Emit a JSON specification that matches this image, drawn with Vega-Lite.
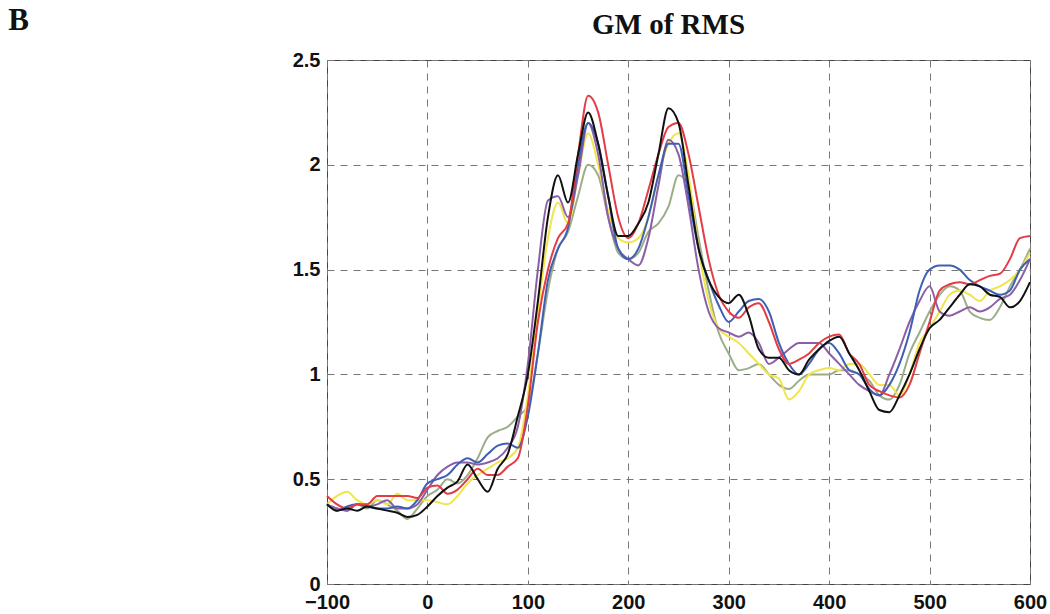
{
  "$schema": "https://vega.github.io/schema/vega-lite/v6.json",
  "width": 703,
  "height": 524,
  "autosize": {"type": "none"},
  "padding": {"left": 327, "top": 60, "right": 20, "bottom": 30},
  "background": "white",
  "title": {"text": "GM of RMS", "font": "Liberation Serif", "fontSize": 29, "fontWeight": "bold", "color": "#111", "anchor": "middle", "frame": "group", "offset": -36, "dx": -10},
  "config": {
    "view": {"stroke": "#444", "strokeWidth": 1},
    "axis": {"labelFont": "Liberation Sans", "labelFontWeight": "bold", "labelFontSize": 20, "labelColor": "#111", "grid": true, "gridColor": "#777", "gridDash": [7, 6], "gridWidth": 1, "domain": false, "ticks": false},
    "axisY": {"titleFontSize": 31}
  },
  "data": {"values": [
    {"x": -100, "k": 0.38, "r": 0.42, "b": 0.38, "yw": 0.38, "g": 0.38, "p": 0.38},
    {"x": -90, "k": 0.35, "r": 0.38, "b": 0.35, "yw": 0.42, "g": 0.36, "p": 0.36},
    {"x": -80, "k": 0.36, "r": 0.36, "b": 0.37, "yw": 0.44, "g": 0.35, "p": 0.35},
    {"x": -70, "k": 0.35, "r": 0.38, "b": 0.38, "yw": 0.40, "g": 0.38, "p": 0.38},
    {"x": -60, "k": 0.37, "r": 0.38, "b": 0.37, "yw": 0.38, "g": 0.36, "p": 0.37},
    {"x": -50, "k": 0.36, "r": 0.42, "b": 0.36, "yw": 0.40, "g": 0.40, "p": 0.38},
    {"x": -40, "k": 0.35, "r": 0.42, "b": 0.36, "yw": 0.38, "g": 0.38, "p": 0.40},
    {"x": -30, "k": 0.34, "r": 0.42, "b": 0.37, "yw": 0.43, "g": 0.35, "p": 0.36},
    {"x": -20, "k": 0.32, "r": 0.42, "b": 0.36, "yw": 0.40, "g": 0.31, "p": 0.36},
    {"x": -10, "k": 0.33, "r": 0.41, "b": 0.40, "yw": 0.40, "g": 0.36, "p": 0.38},
    {"x": 0, "k": 0.37, "r": 0.46, "b": 0.48, "yw": 0.40, "g": 0.42, "p": 0.45},
    {"x": 10, "k": 0.42, "r": 0.47, "b": 0.50, "yw": 0.39, "g": 0.45, "p": 0.52},
    {"x": 20, "k": 0.46, "r": 0.43, "b": 0.52, "yw": 0.38, "g": 0.50, "p": 0.56},
    {"x": 30, "k": 0.49, "r": 0.45, "b": 0.57, "yw": 0.42, "g": 0.48, "p": 0.58},
    {"x": 40, "k": 0.57, "r": 0.50, "b": 0.60, "yw": 0.48, "g": 0.52, "p": 0.58},
    {"x": 50, "k": 0.50, "r": 0.55, "b": 0.58, "yw": 0.52, "g": 0.60, "p": 0.57},
    {"x": 60, "k": 0.44, "r": 0.52, "b": 0.62, "yw": 0.55, "g": 0.70, "p": 0.58},
    {"x": 70, "k": 0.55, "r": 0.52, "b": 0.66, "yw": 0.58, "g": 0.73, "p": 0.60},
    {"x": 80, "k": 0.62, "r": 0.56, "b": 0.67, "yw": 0.60, "g": 0.75, "p": 0.65},
    {"x": 90, "k": 0.80, "r": 0.60, "b": 0.65, "yw": 0.65, "g": 0.80, "p": 0.75},
    {"x": 100, "k": 1.00, "r": 0.85, "b": 0.80, "yw": 0.90, "g": 0.85, "p": 1.05},
    {"x": 110, "k": 1.35, "r": 1.25, "b": 1.10, "yw": 1.30, "g": 1.10, "p": 1.50},
    {"x": 120, "k": 1.75, "r": 1.50, "b": 1.45, "yw": 1.65, "g": 1.40, "p": 1.83},
    {"x": 130, "k": 1.95, "r": 1.65, "b": 1.60, "yw": 1.82, "g": 1.60, "p": 1.85},
    {"x": 140, "k": 1.82, "r": 1.72, "b": 1.70, "yw": 1.72, "g": 1.68, "p": 1.75},
    {"x": 150, "k": 2.05, "r": 2.05, "b": 2.00, "yw": 1.95, "g": 1.85, "p": 1.95},
    {"x": 160, "k": 2.25, "r": 2.33, "b": 2.20, "yw": 2.15, "g": 2.00, "p": 2.20},
    {"x": 170, "k": 2.10, "r": 2.25, "b": 2.10, "yw": 2.00, "g": 1.95, "p": 2.05},
    {"x": 180, "k": 1.85, "r": 2.00, "b": 1.85, "yw": 1.78, "g": 1.75, "p": 1.75},
    {"x": 190, "k": 1.66, "r": 1.75, "b": 1.60, "yw": 1.65, "g": 1.58, "p": 1.60},
    {"x": 200, "k": 1.66, "r": 1.65, "b": 1.55, "yw": 1.63, "g": 1.55, "p": 1.55},
    {"x": 210, "k": 1.72, "r": 1.72, "b": 1.60, "yw": 1.65, "g": 1.58, "p": 1.52},
    {"x": 220, "k": 1.82, "r": 1.88, "b": 1.75, "yw": 1.75, "g": 1.68, "p": 1.65},
    {"x": 230, "k": 2.05, "r": 2.05, "b": 1.95, "yw": 1.95, "g": 1.72, "p": 1.90},
    {"x": 240, "k": 2.27, "r": 2.18, "b": 2.10, "yw": 2.10, "g": 1.80, "p": 2.12},
    {"x": 250, "k": 2.20, "r": 2.20, "b": 2.10, "yw": 2.15, "g": 1.95, "p": 2.05},
    {"x": 260, "k": 1.90, "r": 2.05, "b": 1.85, "yw": 1.95, "g": 1.90, "p": 1.80},
    {"x": 270, "k": 1.60, "r": 1.80, "b": 1.60, "yw": 1.60, "g": 1.65, "p": 1.50},
    {"x": 280, "k": 1.45, "r": 1.55, "b": 1.45, "yw": 1.35, "g": 1.40, "p": 1.30},
    {"x": 290, "k": 1.37, "r": 1.38, "b": 1.33, "yw": 1.22, "g": 1.20, "p": 1.22},
    {"x": 300, "k": 1.34, "r": 1.30, "b": 1.25, "yw": 1.18, "g": 1.10, "p": 1.20},
    {"x": 310, "k": 1.38, "r": 1.27, "b": 1.30, "yw": 1.15, "g": 1.02, "p": 1.18},
    {"x": 320, "k": 1.28, "r": 1.32, "b": 1.35, "yw": 1.10, "g": 1.03, "p": 1.20},
    {"x": 330, "k": 1.12, "r": 1.34, "b": 1.36, "yw": 1.05, "g": 1.05, "p": 1.15},
    {"x": 340, "k": 1.08, "r": 1.25, "b": 1.30, "yw": 1.00, "g": 1.00, "p": 1.05},
    {"x": 350, "k": 1.08, "r": 1.12, "b": 1.15, "yw": 0.98, "g": 0.95, "p": 1.08},
    {"x": 360, "k": 1.02, "r": 1.05, "b": 1.05, "yw": 0.88, "g": 0.93, "p": 1.12},
    {"x": 370, "k": 1.00, "r": 1.07, "b": 1.00, "yw": 0.92, "g": 0.97, "p": 1.15},
    {"x": 380, "k": 1.07, "r": 1.10, "b": 1.05, "yw": 1.00, "g": 1.00, "p": 1.15},
    {"x": 390, "k": 1.12, "r": 1.15, "b": 1.12, "yw": 1.02, "g": 1.00, "p": 1.15},
    {"x": 400, "k": 1.16, "r": 1.18, "b": 1.15, "yw": 1.03, "g": 1.00, "p": 1.10},
    {"x": 410, "k": 1.18, "r": 1.19, "b": 1.10, "yw": 1.02, "g": 1.02, "p": 1.05},
    {"x": 420, "k": 1.10, "r": 1.10, "b": 1.02, "yw": 1.05, "g": 1.02, "p": 1.00},
    {"x": 430, "k": 1.02, "r": 1.05, "b": 1.00, "yw": 1.05, "g": 1.00, "p": 0.95},
    {"x": 440, "k": 0.92, "r": 0.95, "b": 0.93, "yw": 1.00, "g": 0.97, "p": 0.92},
    {"x": 450, "k": 0.83, "r": 0.92, "b": 0.90, "yw": 0.95, "g": 0.90, "p": 0.90},
    {"x": 460, "k": 0.82, "r": 0.90, "b": 0.95, "yw": 0.95, "g": 0.88, "p": 1.00},
    {"x": 470, "k": 0.90, "r": 0.89, "b": 1.05, "yw": 0.90, "g": 0.95, "p": 1.12},
    {"x": 480, "k": 1.00, "r": 0.95, "b": 1.20, "yw": 1.00, "g": 1.10, "p": 1.25},
    {"x": 490, "k": 1.12, "r": 1.10, "b": 1.40, "yw": 1.15, "g": 1.20, "p": 1.35},
    {"x": 500, "k": 1.22, "r": 1.25, "b": 1.50, "yw": 1.22, "g": 1.30, "p": 1.42},
    {"x": 510, "k": 1.26, "r": 1.40, "b": 1.52, "yw": 1.30, "g": 1.38, "p": 1.30},
    {"x": 520, "k": 1.32, "r": 1.43, "b": 1.52, "yw": 1.38, "g": 1.42, "p": 1.28},
    {"x": 530, "k": 1.38, "r": 1.44, "b": 1.50, "yw": 1.40, "g": 1.40, "p": 1.30},
    {"x": 540, "k": 1.43, "r": 1.43, "b": 1.45, "yw": 1.38, "g": 1.30, "p": 1.32},
    {"x": 550, "k": 1.42, "r": 1.45, "b": 1.42, "yw": 1.35, "g": 1.27, "p": 1.30},
    {"x": 560, "k": 1.38, "r": 1.47, "b": 1.40, "yw": 1.40, "g": 1.26, "p": 1.32},
    {"x": 570, "k": 1.37, "r": 1.48, "b": 1.38, "yw": 1.42, "g": 1.32, "p": 1.36},
    {"x": 580, "k": 1.32, "r": 1.55, "b": 1.40, "yw": 1.45, "g": 1.42, "p": 1.38},
    {"x": 590, "k": 1.35, "r": 1.65, "b": 1.50, "yw": 1.50, "g": 1.50, "p": 1.45},
    {"x": 600, "k": 1.44, "r": 1.66, "b": 1.55, "yw": 1.58, "g": 1.60, "p": 1.55}
  ]},
  "transform": [{"fold": ["g", "yw", "p", "b", "r", "k"], "as": ["series", "value"]}],
  "mark": {"type": "line", "strokeWidth": 2, "interpolate": "monotone"},
  "encoding": {
    "x": {"field": "x", "type": "quantitative", "scale": {"domain": [-100, 600], "nice": false}, "axis": {"values": [-100, 0, 100, 200, 300, 400, 500, 600], "title": null, "labelPadding": 8, "labelFlush": false}},
    "y": {"field": "value", "type": "quantitative", "scale": {"domain": [0, 2.5], "nice": false}, "axis": {"values": [0, 0.5, 1, 1.5, 2, 2.5], "format": ".1~f", "labelPadding": 7, "labelFlush": false, "title": "B", "titleFont": "Liberation Serif", "titleFontSize": 31, "titleFontWeight": "bold", "titleColor": "#111", "titleAngle": 0, "titleAlign": "center", "titleBaseline": "alphabetic", "titleX": -309, "titleY": -31}},
    "color": {"field": "series", "type": "nominal", "scale": {"domain": ["g", "yw", "p", "b", "r", "k"], "range": ["#9bae88", "#f0e54a", "#8b5fa8", "#3e5fb4", "#e43c44", "#111111"]}, "legend": null},
    "order": {"field": "series", "sort": "ascending"}
  }
}
